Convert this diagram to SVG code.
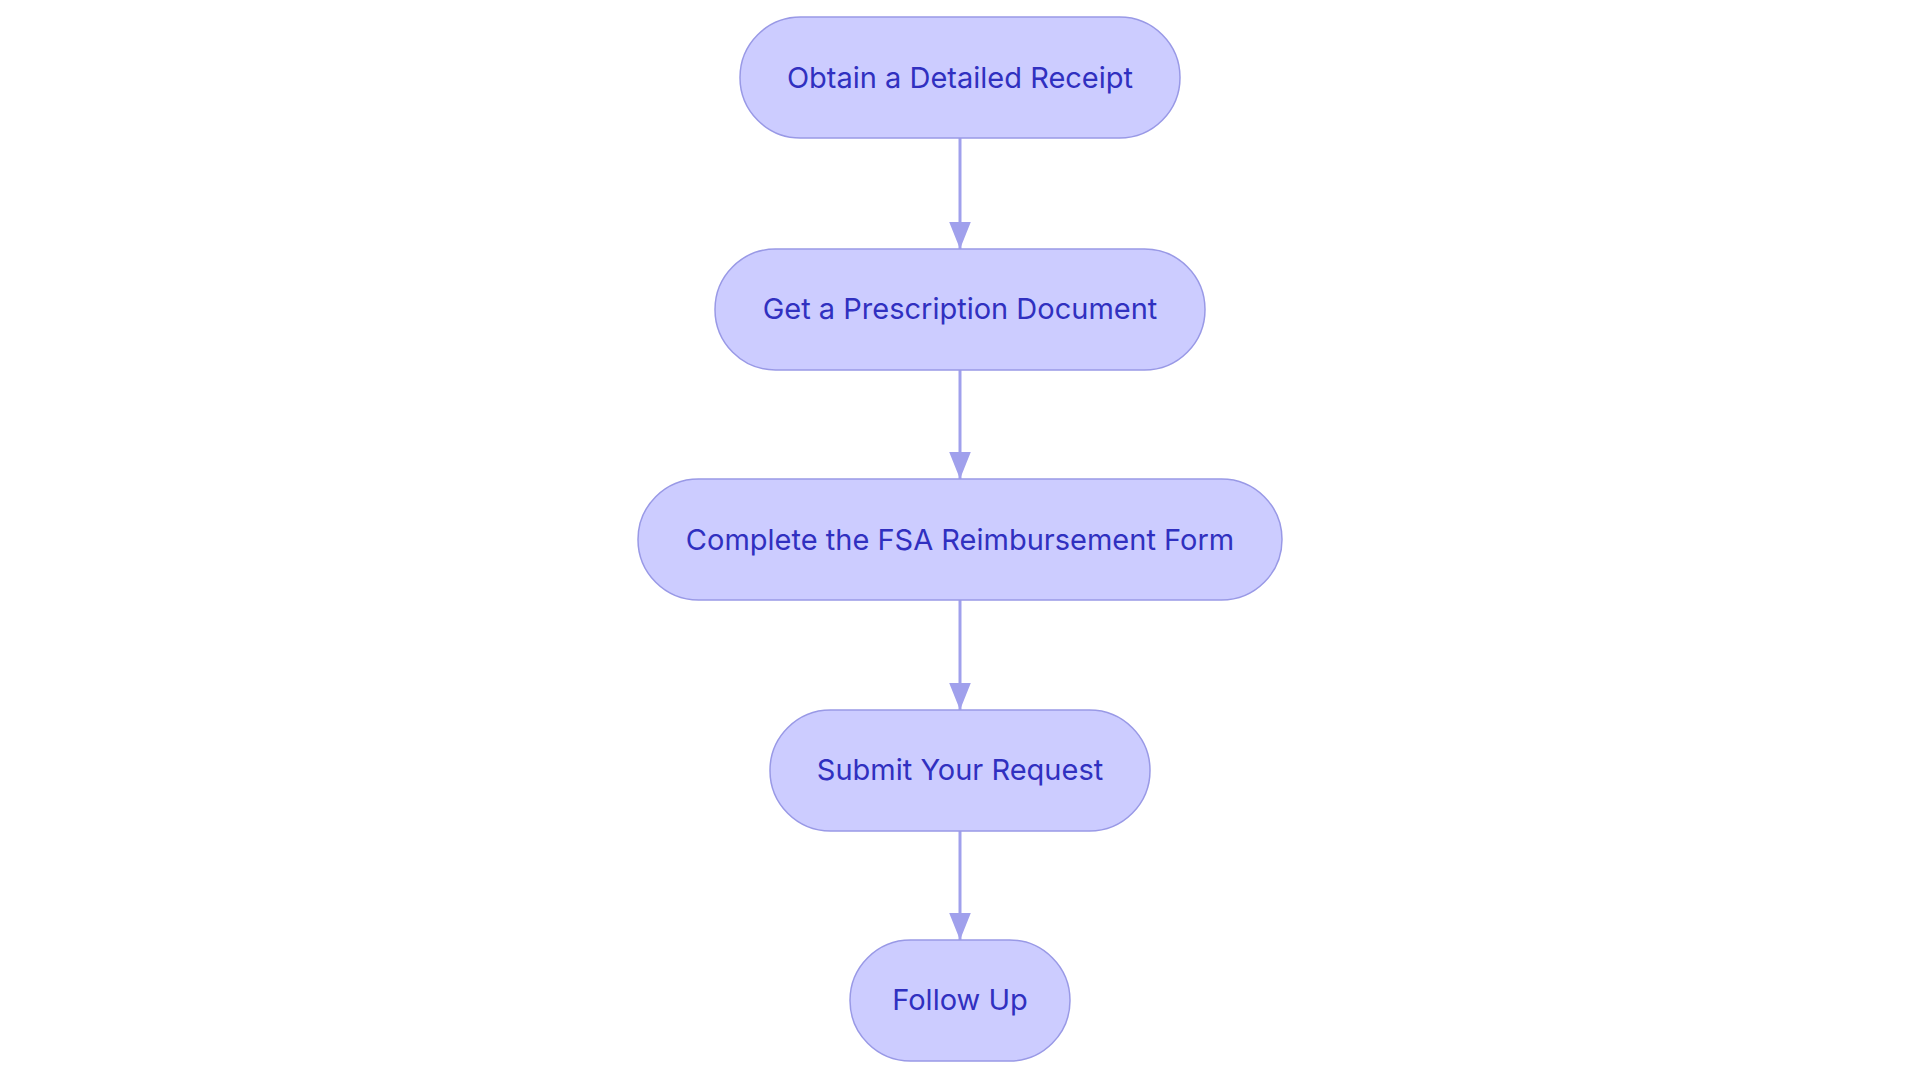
<svg xmlns="http://www.w3.org/2000/svg" width="1920" height="1083" viewBox="0 0 1920 1083">
<style>
.n rect{fill:#ccccff;stroke:#9999e6;stroke-width:1.5}
.n text{font-family:Inter,"Noto Sans",sans-serif;font-size:29px;fill:#3030c0;text-anchor:middle;dominant-baseline:central}
.c line{stroke:#a0a0ec;stroke-width:3}
</style>
<defs><marker id="a" viewBox="0 0 10 10" refX="9" refY="5" markerWidth="9" markerHeight="9" markerUnits="userSpaceOnUse" orient="auto"><path d="M0,0L10,5L0,10z" fill="#a0a0ec"/></marker>
<marker id="b" viewBox="0 0 10 10" refX="10" refY="5" markerWidth="27" markerHeight="27" markerUnits="userSpaceOnUse" orient="auto"><path d="M0,1L10,5L0,9z" fill="#a0a0ec"/></marker></defs>
<rect width="1920" height="1083" fill="#fff"/>
<g class="c">
<line x1="960" y1="138" x2="960" y2="249" marker-end="url(#b)"/>
<line x1="960" y1="370" x2="960" y2="479" marker-end="url(#b)"/>
<line x1="960" y1="600" x2="960" y2="710" marker-end="url(#b)"/>
<line x1="960" y1="831" x2="960" y2="940" marker-end="url(#b)"/>
</g>
<g id="n1" class="n"><rect x="740" y="17" width="440" height="121" rx="60.5"/><text x="960" y="77">Obtain a Detailed Receipt</text></g>
<g id="n2" class="n"><rect x="715" y="249" width="490" height="121" rx="60.5"/><text x="960" y="308">Get a Prescription Document</text></g>
<g id="n3" class="n"><rect x="638" y="479" width="644" height="121" rx="60.5"/><text x="960" y="539">Complete the FSA Reimbursement Form</text></g>
<g id="n4" class="n"><rect x="770" y="710" width="380" height="121" rx="60.5"/><text x="960" y="769">Submit Your Request</text></g>
<g id="n5" class="n"><rect x="850" y="940" width="220" height="121" rx="60.5"/><text x="960" y="999">Follow Up</text></g>
</svg>
